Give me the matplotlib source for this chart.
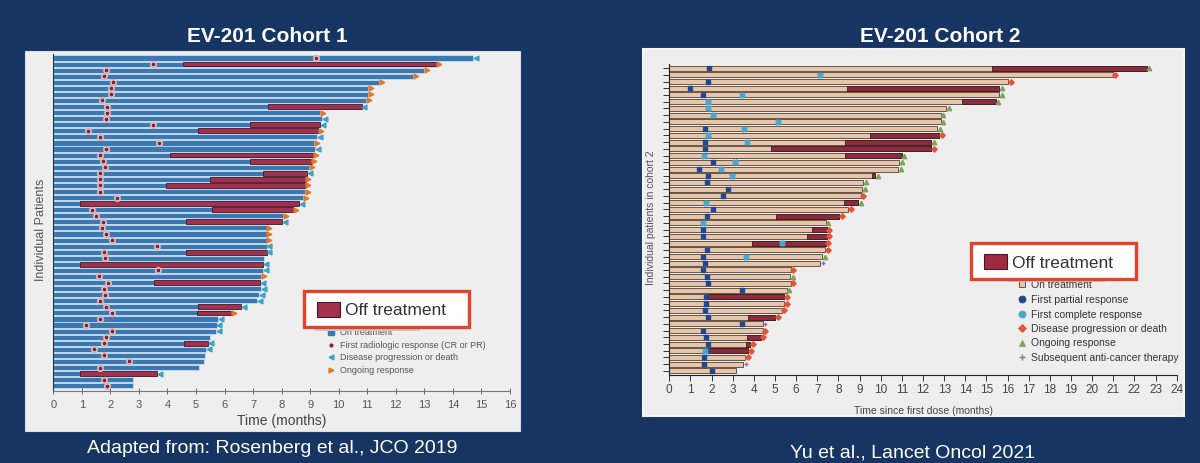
import matplotlib
matplotlib.use("Agg")
import matplotlib.pyplot as plt
from matplotlib.patches import Rectangle
from matplotlib.lines import Line2D

plt.rcParams["font.family"] = ["Liberation Sans", "DejaVu Sans"]

# ---- data -----------------------------------------------------------------
# Cohort 1 (Rosenberg et al.): one row per responder, months
c1_end = [14.7, 13.4, 13.0, 12.6, 11.4, 11.04, 11.04, 10.96, 10.8, 9.35,
          9.43, 9.35, 9.29, 9.25, 9.13, 9.17, 9.1, 9.05, 8.97, 8.88,
          8.84, 8.82, 8.82, 8.74, 8.62, 8.41, 8.06, 8.0, 7.47, 7.47,
          7.47, 7.47, 7.47, 7.38, 7.34, 7.34, 7.27, 7.24, 7.27, 7.22,
          7.13, 6.58, 6.23, 5.78, 5.72, 5.69, 5.49, 5.43, 5.34, 5.32,
          5.28, 5.12, 3.65, 2.78, 2.78]
c1_off = {2: 4.55, 9: 7.53, 12: 6.9, 13: 5.06, 17: 4.1, 18: 6.9, 20: 7.36,
          21: 5.49, 22: 3.94, 25: 0.94, 26: 5.55, 28: 4.64, 33: 4.64,
          35: 0.94, 38: 3.53, 42: 5.08, 43: 5.02, 48: 4.59, 53: 0.94}
c1_resp = [9.2, 3.5, 1.86, 1.79, 2.08, 2.02, 2.02, 1.72, 1.89, 1.89,
           1.86, 3.5, 1.2, 1.64, 3.7, 1.86, 1.64, 1.75, 1.82, 1.64,
           1.64, 1.64, 1.64, 2.22, None, 1.34, 1.5, 1.75, 1.7, 1.86,
           2.05, 3.62, 1.79, 1.82, None, 3.68, 1.6, 1.93, 1.79, 1.82,
           1.64, 1.84, 2.06, 1.64, 1.15, 2.06, 1.84, 1.79, 1.44, 1.79,
           2.65, 1.64, None, 1.79, 1.89]
# p = progression / death, o = ongoing response, - = none
c1_event = ("pooooooopo" "ppopopooop" "oooopoopoo"
            "opp-ppoppp" "ppoppp-pp-" "--p--")

# Cohort 2 (Yu et al.)
c2_end = [22.58, 20.97, 16.04, 15.6, 15.6, 15.44, 13.09, 12.84, 12.84, 12.68,
          12.76, 12.38, 12.38, 10.99, 10.88, 10.83, 9.75, 9.18, 9.13, 9.05,
          8.94, 8.47, 8.04, 7.41, 7.44, 7.44, 7.41, 7.37, 7.24, 7.13,
          5.74, 5.71, 5.74, 5.55, 5.43, 5.43, 5.32, 5.0, 4.42, 4.42,
          4.32, 3.82, 3.74, 3.58, 3.5, 3.16]
c2_off = {1: 15.25, 4: 8.42, 6: 13.86, 11: 9.49, 12: 8.31, 13: 4.81,
          14: 8.31, 17: 9.6, 21: 8.28, 23: 5.05, 25: 6.77, 26: 6.53,
          27: 3.9, 35: 1.85, 38: 3.71, 41: 3.69, 42: 3.65, 43: 1.85}
c2_pr = {1: 1.88, 3: 1.82, 4: 0.98, 5: 1.61, 10: 1.69, 12: 1.69, 13: 1.69,
         15: 2.08, 16: 1.4, 17: 1.85, 18: 1.77, 19: 2.79, 20: 2.52,
         22: 2.08, 23: 1.77, 25: 1.61, 26: 1.61, 28: 1.77, 29: 1.61,
         30: 1.69, 31: 1.61, 32: 1.77, 33: 1.85, 34: 3.45, 35: 1.72,
         36: 1.72, 37: 1.69, 38: 1.85, 39: 3.45, 40: 1.61, 41: 1.72,
         42: 1.85, 43: 1.85, 44: 1.64, 45: 1.64, 46: 2.0}
c2_cr = {2: 7.13, 5: 3.45, 6: 1.82, 7: 1.82, 8: 2.05, 9: 5.13, 10: 3.53,
         11: 1.82, 12: 3.66, 14: 1.66, 15: 3.11, 16: 2.43, 17: 2.98,
         21: 1.74, 24: 1.58, 27: 5.35, 29: 3.61, 43: 1.69}
# g = ongoing, r = progression/death, s = subsequent therapy, - = none
c2_event = "grrggggggg" "rgrggggggr" "grrgrrrrgs" "rgrgrrrrsr" "rrrrs-"

c1_ticks = list(range(0, 17))
c2_ticks = list(range(0, 25))

# ---- styling --------------------------------------------------------------
NAVY = "#173563"
PANEL = "#eeeeee"
BLUE = "#3b78b1"
RED1 = "#a3304d"
TEAL = "#3ea3c4"
ORANGE = "#e0782e"
TAN = "#e8c5a6"
RED2 = "#8e2b3b"
DBLUE = "#1f4690"
LBLUE = "#4aa6cc"
RED_EV = "#e2553a"
GREEN = "#7ea45a"
PURPLE = "#8a70b0"
BOX = "#e2432c"

W, H = 1200, 464
fig = plt.figure(figsize=(W / 100, H / 100), dpi=100, facecolor=NAVY)


def fx(x):
    return x / W


def fy(y):
    return 1 - y / H


def add_axes_px(x0, y0, x1, y1):
    return fig.add_axes([fx(x0), fy(y1), fx(x1 - x0), (y1 - y0) / H])


def rect_px(x0, y0, x1, y1, **kw):
    r = Rectangle((fx(x0), fy(y1)), fx(x1 - x0), (y1 - y0) / H,
                  transform=fig.transFigure, **kw)
    fig.add_artist(r)
    return r


def mark_px(x, y, **kw):
    fig.add_artist(Line2D([fx(x)], [fy(y)], transform=fig.transFigure,
                          linestyle="none", **kw))


# panel backgrounds
rect_px(25, 52, 520, 432, facecolor=PANEL, edgecolor="#d8dde5", lw=0.8, zorder=0)
rect_px(643, 50, 1184, 417, facecolor=PANEL, edgecolor="#f4f4f4", lw=1.5, zorder=0)

# titles and sources
fig.text(fx(267), fy(36), "EV-201 Cohort 1", color="white", fontsize=15,
         fontweight="bold", ha="center", va="center")
fig.text(fx(940), fy(36), "EV-201 Cohort 2", color="white", fontsize=15,
         fontweight="bold", ha="center", va="center")
fig.text(fx(272), fy(449), "Adapted from: Rosenberg et al., JCO 2019",
         color="white", fontsize=14, ha="center", va="center")
fig.text(fx(913), fy(453), "Yu et al., Lancet Oncol 2021",
         color="white", fontsize=14, ha="center", va="center")

# ---- cohort 1 -------------------------------------------------------------
n1 = len(c1_end)
rows1 = list(range(n1))
ax1 = add_axes_px(53.3, 55, 510, 392)
ax1.set_facecolor("none")
ax1.barh(rows1, c1_end, height=0.84, color=BLUE, edgecolor="#d4e5f3", lw=0.5)
for r, start in c1_off.items():
    i = r - 1
    ax1.barh(i, c1_end[i] - start, left=start, height=0.78, color=RED1,
             edgecolor="#3a1c2a", lw=0.6, zorder=3)
rx = [v for v in c1_resp if v is not None]
ry = [i for i, v in enumerate(c1_resp) if v is not None]
ax1.scatter(rx, ry, s=22, facecolor="#f3eded", edgecolor="#c6a8a8", lw=0.6, zorder=4)
ax1.scatter(rx, ry, s=3.5, color="#8a1f35", zorder=5)
for i, ev in enumerate(c1_event):
    if ev == "p":
        ax1.plot(c1_end[i] + 0.1, i, "<", ms=3.5, color=TEAL, zorder=5)
    elif ev == "o":
        ax1.plot(c1_end[i] + 0.1, i, ">", ms=3.5, color=ORANGE, zorder=5)
ax1.set_xlim(0, 16)
ax1.set_ylim(n1 - 1 + 0.87, -0.66)
ax1.set_xticks(c1_ticks)
ax1.set_yticks([])
ax1.tick_params(axis="x", direction="inout", length=4, width=0.7,
                colors="#666", labelsize=8, labelcolor="#555", pad=4)
for s in ("top", "right"):
    ax1.spines[s].set_visible(False)
ax1.spines["left"].set_color("#2a3340")
ax1.spines["bottom"].set_color("#777")
ax1.set_xlabel("Time (months)", fontsize=10, color="#444")
ax1.xaxis.set_label_coords(0.5, -0.066)
fig.text(fx(41), fy(230), "Individual Patients", rotation=90, fontsize=9,
         color="#555", ha="center", va="center")

# cohort 1 legend
mark_px(331, 333, marker="s", ms=5, color=BLUE)
fig.text(fx(340), fy(333), "On treatment", fontsize=6.5, color="#555", va="center")
mark_px(331, 345.5, marker="o", ms=2, color="#8a1f35")
fig.text(fx(340), fy(345.5), "First radiologic response (CR or PR)", fontsize=6.5,
         color="#555", va="center")
mark_px(331, 358, marker="<", ms=3.5, color=TEAL)
fig.text(fx(340), fy(358), "Disease progression or death", fontsize=6.5,
         color="#555", va="center")
mark_px(331, 371, marker=">", ms=3.5, color=ORANGE)
fig.text(fx(340), fy(371), "Ongoing response", fontsize=6.5, color="#555", va="center")
rect_px(315, 329, 420, 332, facecolor="#c8c8c8", edgecolor="none", zorder=5)
rect_px(304, 292, 469, 328, facecolor="white", edgecolor=BOX, lw=2.4, zorder=6)
rect_px(317, 303, 340, 318, facecolor=RED1, edgecolor="#3a1c2a", lw=0.8, zorder=7)
fig.text(fx(345), fy(311), "Off treatment", fontsize=12.5, color="#333",
         va="center", zorder=7)

# ---- cohort 2 -------------------------------------------------------------
n2 = len(c2_end)
rows2 = list(range(n2))
ax2 = add_axes_px(669.3, 65, 1176.7, 376)
ax2.set_facecolor("none")
ax2.barh(rows2, c2_end, height=0.74, color=TAN, edgecolor="#4d4038", lw=0.6)
for r, start in c2_off.items():
    i = r - 1
    ax2.barh(i, c2_end[i] - start, left=start, height=0.74, color=RED2,
             edgecolor="#3a1c20", lw=0.6, zorder=3)
ax2.scatter(list(c2_pr.values()), [r - 1 for r in c2_pr], marker="s", s=9,
            color=DBLUE, zorder=5)
ax2.scatter(list(c2_cr.values()), [r - 1 for r in c2_cr], marker="X", s=14,
            color=LBLUE, zorder=5)
for i, ev in enumerate(c2_event):
    x = c2_end[i] + 0.12
    if ev == "g":
        ax2.plot(x, i, "^", ms=3.2, color=GREEN, zorder=5)
    elif ev == "r":
        ax2.plot(x, i, "D", ms=2.8, color=RED_EV, zorder=5)
    elif ev == "s":
        ax2.plot(x, i, "+", ms=3.5, mew=1, color=PURPLE, zorder=5)
ax2.set_xlim(0, 24)
ax2.set_ylim(n2 - 1 + 0.6, -0.6)
ax2.set_xticks(c2_ticks)
ax2.set_yticks(rows2)
ax2.set_yticklabels([])
ax2.tick_params(axis="x", direction="out", length=4, width=0.7, colors="#333",
                labelsize=8.5, labelcolor="#444", pad=2)
ax2.tick_params(axis="y", direction="out", length=4, width=0.7, colors="#333")
for s in ("top", "right"):
    ax2.spines[s].set_visible(False)
ax2.spines["left"].set_color("#222")
ax2.spines["bottom"].set_color("#222")
ax2.set_xlabel("Time since first dose (months)", fontsize=7.5, color="#444")
ax2.xaxis.set_label_coords(0.5, -0.095)
fig.text(fx(651), fy(218), "Individual patients in cohort 2", rotation=90,
         fontsize=7.5, color="#555", ha="center", va="center")

# cohort 2 legend
items = [("s", TAN, "On treatment", 285),
         ("o", DBLUE, "First partial response", 300),
         ("o", LBLUE, "First complete response", 314.5),
         ("D", RED_EV, "Disease progression or death", 329),
         ("^", GREEN, "Ongoing response", 343.5),
         ("+", PURPLE, "Subsequent anti-cancer therapy", 358)]
for m, c, label, y in items:
    mark_px(1022, y, marker=m, ms=5 if m != "D" else 4, color=c,
            markeredgecolor="#4d4038" if m == "s" else c, mew=1 if m == "+" else 0.6)
    fig.text(fx(1031), fy(y), label, fontsize=7.5, color="#333", va="center")
rect_px(1008, 280, 1105, 283, facecolor="#c8c8c8", edgecolor="none", zorder=5)
rect_px(971, 244, 1136, 280, facecolor="white", edgecolor=BOX, lw=2.4, zorder=6)
rect_px(984, 255, 1007, 270, facecolor="#a02840", edgecolor="#3a1c2a", lw=0.8, zorder=7)
fig.text(fx(1012), fy(263), "Off treatment", fontsize=12.5, color="#333",
         va="center", zorder=7)

fig.savefig("out.png", dpi=100, facecolor=NAVY)
